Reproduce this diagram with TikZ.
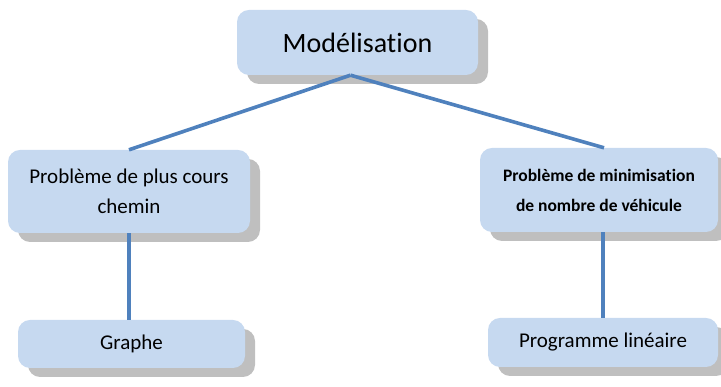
\documentclass[tikz,border=0pt]{standalone}
\usepackage{fontspec}
\setmainfont{Carlito}[RawFeature=-liga]
\usepackage{tikz}
\usetikzlibrary{positioning,shadows}
\definecolor{boxblue}{RGB}{198,217,240}
\definecolor{linkblue}{RGB}{79,129,189}

\begin{document}
\begin{tikzpicture}[x=1pt,y=1pt,
            box/.style={rectangle,rounded corners=12pt,fill=boxblue,align=center,inner sep=0pt,
                drop shadow={shadow xshift=10pt,shadow yshift=-9pt,fill=black!25,opacity=1}},
            link/.style={draw=linkblue,line width=3.6pt}]
            \useasboundingbox (0,0) rectangle (721,387);
            \node[box,minimum width=241pt,minimum height=65pt,font=\fontsize{28}{32}\selectfont] (model) at (357.5,344.5) {Modélisation};
            \node[box,minimum width=242pt,minimum height=83pt,font=\fontsize{21}{30}\selectfont] (chemin) at (129,195.5) {Problème de plus cours\\chemin};
            \node[box,minimum width=238pt,minimum height=84pt,font=\fontsize{17.5}{30}\selectfont\bfseries] (vehicule) at (599,197) {Problème de minimisation\\de nombre de véhicule};
            \node[box,minimum width=227pt,minimum height=48pt,font=\fontsize{21}{26}\selectfont] (graphe) at (131.5,43) {Graphe};
            \node[box,minimum width=230pt,minimum height=49pt,font=\fontsize{21}{26}\selectfont] (lineaire) at (603,44.5) {Programme linéaire};
            \draw[link] ([xshift=-7pt]model.south) -- (chemin.north);
            \draw[link] ([xshift=-7pt]model.south) -- ([xshift=5pt]vehicule.north);
            \draw[link] (chemin.south) -- (chemin.south |- graphe.north);
            \draw[link] (lineaire.north |- vehicule.south) -- (lineaire.north);
        \end{tikzpicture}
\end{document}
